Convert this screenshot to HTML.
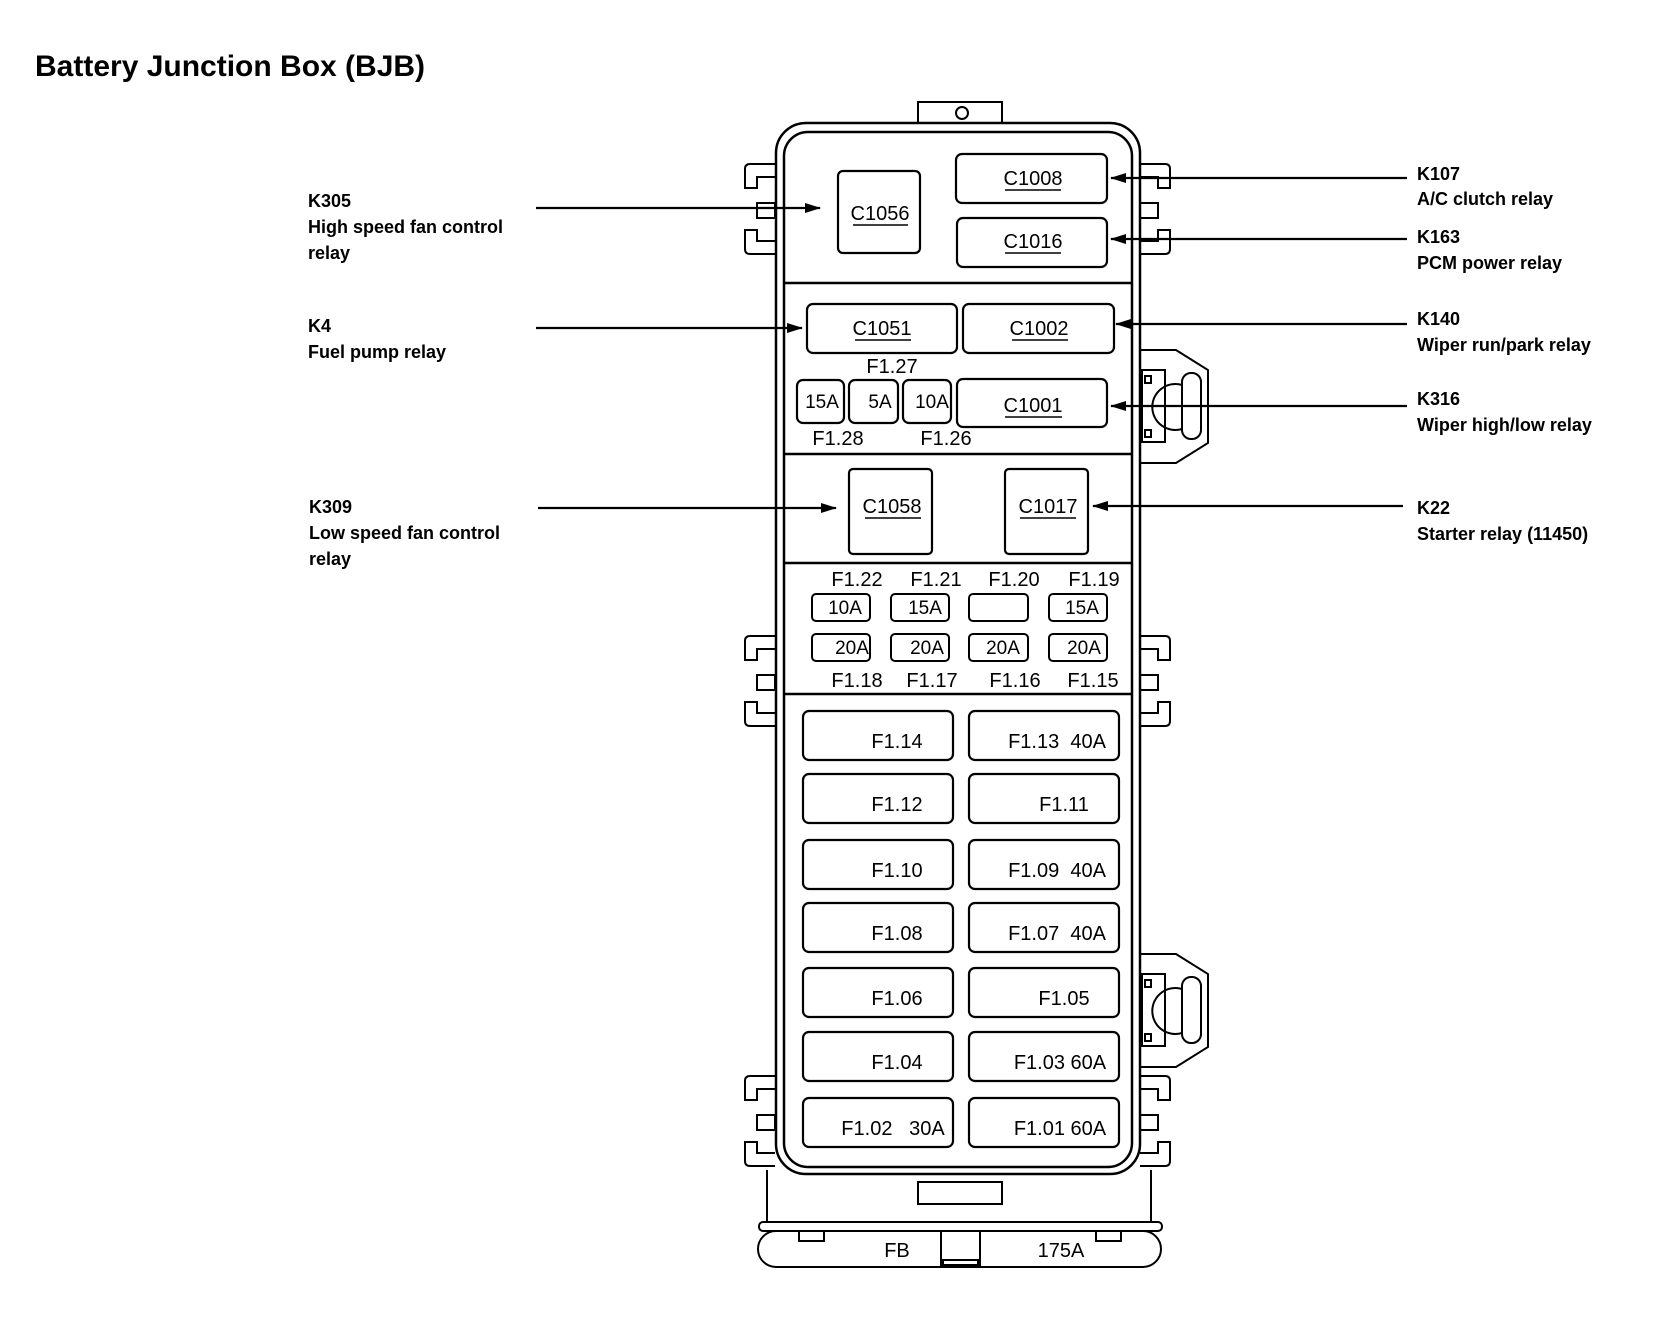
<!DOCTYPE html>
<html><head><meta charset="utf-8"><style>
html,body{margin:0;padding:0;background:#fff;}
svg{display:block;}
text{font-family:"Liberation Sans",Arial,sans-serif;fill:#000;}
.b{font-weight:bold;font-size:18px;}
.t{font-size:20px;text-anchor:middle;}
</style></head><body>
<svg width="1676" height="1344" viewBox="0 0 1676 1344" xmlns="http://www.w3.org/2000/svg">
<defs>
<marker id="ah2" markerWidth="16" markerHeight="10" refX="15" refY="5" orient="auto" markerUnits="userSpaceOnUse">
<path d="M0,0 L16,5 L0,10 Z" fill="#000"/>
</marker>
<g id="clips" fill="#fff" stroke="#000" stroke-width="2">
<path d="M775,164 H750 Q745,164 745,169 V188 H757 V177 H775"/>
<rect x="757" y="203" width="18" height="15"/>
<path d="M775,254 H750 Q745,254 745,249 V230 H757 V241 H775"/>
<path d="M1140,164 H1165 Q1170,164 1170,169 V188 H1158 V177 H1140"/>
<rect x="1140" y="203" width="18" height="15"/>
<path d="M1140,254 H1165 Q1170,254 1170,249 V230 H1158 V241 H1140"/>
</g>
<g id="conn" fill="none" stroke="#000" stroke-width="2">
<path d="M1141,350 H1176 L1208,370 V443 L1176,463 H1141"/>
<rect x="1142" y="370" width="23" height="72"/>
<rect x="1145" y="376" width="6" height="7"/>
<rect x="1145" y="430" width="6" height="7"/>
<path d="M1182,385 A23,23 0 1 0 1182,429"/>
<rect x="1182" y="373" width="19" height="66" rx="9"/>
</g>
</defs>

<text x="35" y="76" style="font-weight:bold;font-size:30px">Battery Junction Box (BJB)</text>

<rect x="918" y="102" width="84" height="22" fill="#fff" stroke="#000" stroke-width="2"/>
<circle cx="962" cy="113" r="6" fill="none" stroke="#000" stroke-width="2"/>

<g fill="none" stroke="#000" stroke-width="2">
<line x1="767" y1="1170" x2="767" y2="1222"/>
<line x1="1151" y1="1170" x2="1151" y2="1222"/>
<rect x="918" y="1182" width="84" height="22"/>
<rect x="759" y="1222" width="403" height="9" rx="4"/>
<rect x="758" y="1231" width="403" height="36" rx="18"/>
<rect x="799" y="1231" width="25" height="10" fill="#fff"/>
<rect x="1096" y="1231" width="25" height="10" fill="#fff"/>
<rect x="941" y="1231" width="39" height="34" fill="#fff"/>
<rect x="943" y="1260" width="35" height="6"/>
</g>
<text x="897" y="1257" class="t">FB</text>
<text x="1061" y="1257" class="t">175A</text>

<use href="#clips"/>
<use href="#clips" transform="translate(0,472)"/>
<use href="#clips" transform="translate(0,912)"/>
<use href="#conn"/>
<use href="#conn" transform="translate(0,604)"/>

<rect x="776" y="123" width="364" height="1051" rx="30" fill="#fff" stroke="#000" stroke-width="2.5"/>
<rect x="784" y="132" width="348" height="1035" rx="24" fill="none" stroke="#000" stroke-width="2.5"/>
<g stroke="#000" stroke-width="2.5">
<line x1="784" y1="283" x2="1132" y2="283"/>
<line x1="784" y1="454" x2="1132" y2="454"/>
<line x1="784" y1="563" x2="1132" y2="563"/>
<line x1="784" y1="694" x2="1132" y2="694"/>
</g>

<g fill="none" stroke="#000" stroke-width="2.2">
<rect x="838" y="171" width="82" height="82" rx="5"/>
<rect x="956" y="154" width="151" height="49" rx="6"/>
<rect x="957" y="218" width="150" height="49" rx="6"/>
<rect x="807" y="304" width="150" height="49" rx="6"/>
<rect x="963" y="304" width="151" height="49" rx="6"/>
<rect x="797" y="380" width="47" height="43" rx="6"/>
<rect x="849" y="380" width="49" height="43" rx="6"/>
<rect x="903" y="380" width="48" height="43" rx="6"/>
<rect x="957" y="379" width="150" height="48" rx="6"/>
<rect x="849" y="469" width="83" height="85" rx="4"/>
<rect x="1005" y="469" width="83" height="85" rx="4"/>
</g>
<text x="880" y="220" class="t">C1056</text>
<text x="1033" y="185" class="t">C1008</text>
<text x="1033" y="248" class="t">C1016</text>
<text x="882" y="335" class="t">C1051</text>
<text x="1039" y="335" class="t">C1002</text>
<text x="1033" y="412" class="t">C1001</text>
<text x="892" y="513" class="t">C1058</text>
<text x="1048" y="513" class="t">C1017</text>
<text x="892" y="373" class="t">F1.27</text>
<text x="822" y="408" class="t" style="font-size:19px">15A</text>
<text x="880" y="408" class="t" style="font-size:19px">5A</text>
<text x="932" y="408" class="t" style="font-size:19px">10A</text>
<text x="838" y="445" class="t">F1.28</text>
<text x="946" y="445" class="t">F1.26</text>
<g stroke="#000" stroke-width="1.5">
<line x1="853" y1="225" x2="908" y2="225"/>
<line x1="1005" y1="190" x2="1061" y2="190"/>
<line x1="1005" y1="253" x2="1061" y2="253"/>
<line x1="855" y1="340" x2="911" y2="340"/>
<line x1="1012" y1="340" x2="1068" y2="340"/>
<line x1="1005" y1="417" x2="1062" y2="417"/>
<line x1="865" y1="518" x2="921" y2="518"/>
<line x1="1020" y1="518" x2="1076" y2="518"/>
</g>

<text x="857" y="586" class="t">F1.22</text>
<text x="936" y="586" class="t">F1.21</text>
<text x="1014" y="586" class="t">F1.20</text>
<text x="1094" y="586" class="t">F1.19</text>
<text x="857" y="687" class="t">F1.18</text>
<text x="932" y="687" class="t">F1.17</text>
<text x="1015" y="687" class="t">F1.16</text>
<text x="1093" y="687" class="t">F1.15</text>
<g fill="none" stroke="#000" stroke-width="2">
<rect x="812" y="594" width="58" height="27" rx="4"/>
<rect x="891" y="594" width="58" height="27" rx="4"/>
<rect x="969" y="594" width="59" height="27" rx="4"/>
<rect x="1049" y="594" width="58" height="27" rx="4"/>
<rect x="812" y="634" width="58" height="27" rx="4"/>
<rect x="891" y="634" width="58" height="27" rx="4"/>
<rect x="969" y="634" width="59" height="27" rx="4"/>
<rect x="1049" y="634" width="58" height="27" rx="4"/>
</g>
<g style="font-size:19px">
<text x="845" y="614" style="text-anchor:middle">10A</text>
<text x="925" y="614" style="text-anchor:middle">15A</text>
<text x="1082" y="614" style="text-anchor:middle">15A</text>
<text x="852" y="654" style="text-anchor:middle">20A</text>
<text x="927" y="654" style="text-anchor:middle">20A</text>
<text x="1003" y="654" style="text-anchor:middle">20A</text>
<text x="1084" y="654" style="text-anchor:middle">20A</text>
</g>

<g fill="none" stroke="#000" stroke-width="2.2">
<rect x="803" y="711" width="150" height="49" rx="6"/><rect x="969" y="711" width="150" height="49" rx="6"/>
<rect x="803" y="774" width="150" height="49" rx="6"/><rect x="969" y="774" width="150" height="49" rx="6"/>
<rect x="803" y="840" width="150" height="49" rx="6"/><rect x="969" y="840" width="150" height="49" rx="6"/>
<rect x="803" y="903" width="150" height="49" rx="6"/><rect x="969" y="903" width="150" height="49" rx="6"/>
<rect x="803" y="968" width="150" height="49" rx="6"/><rect x="969" y="968" width="150" height="49" rx="6"/>
<rect x="803" y="1032" width="150" height="49" rx="6"/><rect x="969" y="1032" width="150" height="49" rx="6"/>
<rect x="803" y="1098" width="150" height="49" rx="6"/><rect x="969" y="1098" width="150" height="49" rx="6"/>
</g>
<text x="897" y="748" class="t">F1.14</text><text x="1057" y="748" class="t" xml:space="preserve">F1.13  40A</text>
<text x="897" y="811" class="t">F1.12</text><text x="1064" y="811" class="t">F1.11</text>
<text x="897" y="877" class="t">F1.10</text><text x="1057" y="877" class="t" xml:space="preserve">F1.09  40A</text>
<text x="897" y="940" class="t">F1.08</text><text x="1057" y="940" class="t" xml:space="preserve">F1.07  40A</text>
<text x="897" y="1005" class="t">F1.06</text><text x="1064" y="1005" class="t">F1.05</text>
<text x="897" y="1069" class="t">F1.04</text><text x="1060" y="1069" class="t">F1.03 60A</text>
<text x="893" y="1135" class="t" xml:space="preserve">F1.02   30A</text><text x="1060" y="1135" class="t">F1.01 60A</text>

<g stroke="#000" stroke-width="2.2">
<line x1="536" y1="208" x2="820" y2="208" marker-end="url(#ah2)"/>
<line x1="536" y1="328" x2="802" y2="328" marker-end="url(#ah2)"/>
<line x1="538" y1="508" x2="836" y2="508" marker-end="url(#ah2)"/>
<line x1="1407" y1="178" x2="1111" y2="178" marker-end="url(#ah2)"/>
<line x1="1407" y1="239" x2="1111" y2="239" marker-end="url(#ah2)"/>
<line x1="1407" y1="324" x2="1116" y2="324" marker-end="url(#ah2)"/>
<line x1="1407" y1="406" x2="1111" y2="406" marker-end="url(#ah2)"/>
<line x1="1403" y1="506" x2="1093" y2="506" marker-end="url(#ah2)"/>
</g>

<text x="308" y="207" class="b">K305</text>
<text x="308" y="233" class="b">High speed fan control</text>
<text x="308" y="259" class="b">relay</text>
<text x="308" y="332" class="b">K4</text>
<text x="308" y="358" class="b">Fuel pump relay</text>
<text x="309" y="513" class="b">K309</text>
<text x="309" y="539" class="b">Low speed fan control</text>
<text x="309" y="565" class="b">relay</text>

<text x="1417" y="180" class="b">K107</text>
<text x="1417" y="205" class="b">A/C clutch relay</text>
<text x="1417" y="243" class="b">K163</text>
<text x="1417" y="269" class="b">PCM power relay</text>
<text x="1417" y="325" class="b">K140</text>
<text x="1417" y="351" class="b">Wiper run/park relay</text>
<text x="1417" y="405" class="b">K316</text>
<text x="1417" y="431" class="b">Wiper high/low relay</text>
<text x="1417" y="514" class="b">K22</text>
<text x="1417" y="540" class="b">Starter relay (11450)</text>
</svg>
</body></html>
